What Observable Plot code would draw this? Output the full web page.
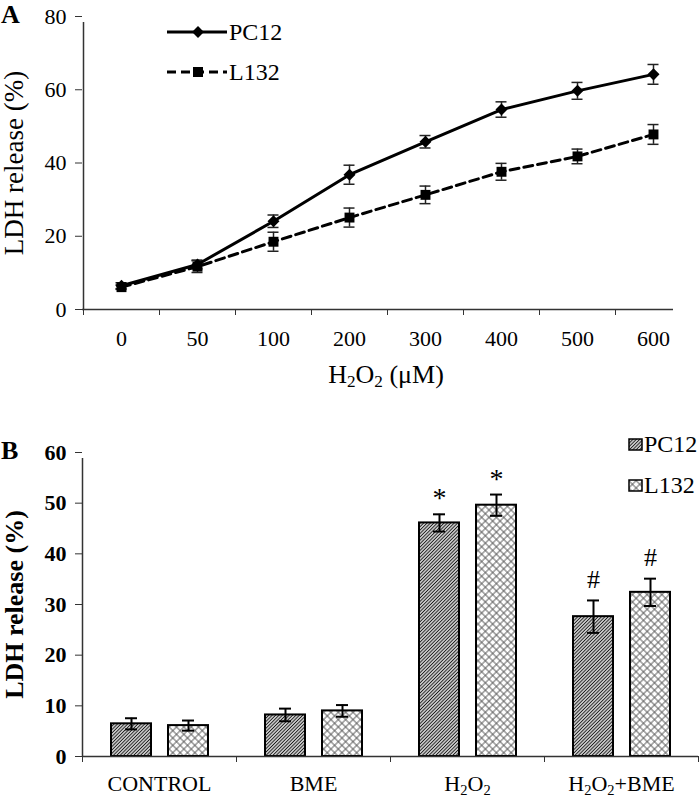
<!DOCTYPE html>
<html><head><meta charset="utf-8">
<script src="https://cdn.jsdelivr.net/npm/d3@7"></script>
<script src="https://cdn.jsdelivr.net/npm/@observablehq/plot@0.6"></script>
<style>
html,body{margin:0;padding:0;background:#fff;}
#chart{position:relative;width:699px;height:797px;overflow:hidden;background:#fff;}
#chart svg{display:block;}
</style></head><body><div id="chart"></div>
<script>
// ---------- Panel A data ----------
const doses = ["0","50","100","200","300","400","500","600"];
const pc12Line = [6.5, 12.3, 24.1, 36.8, 45.8, 54.6, 59.7, 64.2];
const pc12LineErr = [0.8, 1.2, 1.7, 2.6, 1.7, 2.1, 2.3, 2.7];
const l132Line = [6.1, 11.7, 18.5, 25.1, 31.3, 37.6, 41.8, 47.8];
const l132LineErr = [0.6, 1.6, 2.6, 2.6, 2.4, 2.3, 2.0, 2.7];
const yTicksA = [0, 20, 40, 60, 80];
const titleXA = "H₂O₂ (μM)";
const titleY = "LDH release (%)";
const seriesNames = ["PC12", "L132"];

// ---------- Panel B data ----------
const groups = ["CONTROL", "BME", "H₂O₂", "H₂O₂+BME"];
const pc12Bar = [6.45, 8.2, 46.1, 27.6];
const pc12BarErr = [1.1, 1.25, 1.7, 3.2];
const l132Bar = [6.1, 9.0, 49.6, 32.4];
const l132BarErr = [1.0, 1.15, 2.1, 2.7];
const pc12Sig = ["", "", "*", "#"];
const l132Sig = ["", "", "*", "#"];
const yTicksB = [0, 10, 20, 30, 40, 50, 60];

const FONT = '"Liberation Serif","Times New Roman",Times,serif';
const W = 699;

const rowsPCA = doses.map((d, i) => ({dose: d, v: pc12Line[i], e: pc12LineErr[i]}));
const rowsLA = doses.map((d, i) => ({dose: d, v: l132Line[i], e: l132LineErr[i]}));
const rowsPCB = groups.map((g, i) => ({g, v: pc12Bar[i], e: pc12BarErr[i], s: pc12Sig[i]}));
const rowsLB = groups.map((g, i) => ({g, v: l132Bar[i], e: l132BarErr[i], s: l132Sig[i]}));

const chart = document.getElementById("chart");

// ---------- Panel A ----------
const plotA = Plot.plot({
  width: W, height: 385,
  marginLeft: 82, marginRight: 26, marginTop: 16, marginBottom: 76,
  style: {fontFamily: FONT, fontSize: "22px", color: "#000", background: "#fff", overflow: "visible"},
  x: {type: "band", domain: doses, range: [82, 691], padding: 0},
  y: {domain: [0, 80]},
  marks: [
    Plot.ruleY([0], {stroke: "#333", strokeWidth: 1.5}),
    Plot.ruleX([doses[0]], {x: d => d, y1: 0, y2: 80, dx: -38, insetBottom: -6, stroke: "#333", strokeWidth: 1.5}),
    Plot.axisY({ticks: yTicksA, tickSize: 7, tickPadding: 9, label: null, stroke: "#333"}),
    Plot.axisX({tickSize: 0, tickPadding: 21, label: null}),
    Plot.axisX({tickSize: 6, dx: -38, tickFormat: () => "", label: null, stroke: "#333"}),
    // error bars
    Plot.ruleX(rowsPCA, {x: "dose", y1: d => d.v - d.e, y2: d => d.v + d.e, stroke: "#222", strokeWidth: 1.5}),
    Plot.tickY(rowsPCA, {x: "dose", y: d => d.v + d.e, insetLeft: 32.5, insetRight: 32.5, stroke: "#222", strokeWidth: 1.5}),
    Plot.tickY(rowsPCA, {x: "dose", y: d => d.v - d.e, insetLeft: 32.5, insetRight: 32.5, stroke: "#222", strokeWidth: 1.5}),
    Plot.ruleX(rowsLA, {x: "dose", y1: d => d.v - d.e, y2: d => d.v + d.e, stroke: "#222", strokeWidth: 1.5}),
    Plot.tickY(rowsLA, {x: "dose", y: d => d.v + d.e, insetLeft: 32.5, insetRight: 32.5, stroke: "#222", strokeWidth: 1.5}),
    Plot.tickY(rowsLA, {x: "dose", y: d => d.v - d.e, insetLeft: 32.5, insetRight: 32.5, stroke: "#222", strokeWidth: 1.5}),
    // lines
    Plot.line(rowsLA, {x: "dose", y: "v", stroke: "#000", strokeWidth: 3, strokeDasharray: "9,5"}),
    Plot.line(rowsPCA, {x: "dose", y: "v", stroke: "#000", strokeWidth: 3}),
    Plot.dot(rowsLA, {x: "dose", y: "v", symbol: "square", r: 5.6, fill: "#000", stroke: "none"}),
    Plot.dot(rowsPCA, {x: "dose", y: "v", symbol: "square", rotate: 45, r: 4.8, fill: "#000", stroke: "none"}),
    // titles
    Plot.text([titleY], {text: d => d, frameAnchor: "left", dx: -68, rotate: -90, fontSize: 27, textAnchor: "middle", lineAnchor: "middle"}),
    Plot.text([titleXA], {text: d => d, frameAnchor: "bottom", dx: 8, dy: 65, fontSize: 26, textAnchor: "middle", lineAnchor: "middle"})
  ]
});
chart.appendChild(plotA);

// ---------- Panel B ----------
const plotB = Plot.plot({
  width: W, height: 412,
  marginLeft: 82, marginRight: 1, marginTop: 67, marginBottom: 41,
  style: {fontFamily: FONT, fontSize: "22px", color: "#000", background: "#fff", overflow: "visible"},
  x: {type: "band", domain: groups, range: [82, 698], padding: 0},
  y: {domain: [0, 60]},
  marks: [
    Plot.barY(rowsPCB, {x: "g", y: "v", fill: "url(#hatchPC)", stroke: "#000", strokeWidth: 2, insetLeft: 29, insetRight: 85}),
    Plot.barY(rowsLB, {x: "g", y: "v", fill: "url(#hatchL)", stroke: "#000", strokeWidth: 2, insetLeft: 86, insetRight: 28}),
    // error bars
    Plot.ruleX(rowsPCB, {x: "g", y1: d => d.v - d.e, y2: d => d.v + d.e, dx: -28, stroke: "#000", strokeWidth: 2}),
    Plot.tickY(rowsPCB, {x: "g", y: d => d.v + d.e, insetLeft: 43, insetRight: 99, stroke: "#000", strokeWidth: 2}),
    Plot.tickY(rowsPCB, {x: "g", y: d => d.v - d.e, insetLeft: 43, insetRight: 99, stroke: "#000", strokeWidth: 2}),
    Plot.ruleX(rowsLB, {x: "g", y1: d => d.v - d.e, y2: d => d.v + d.e, dx: 29, stroke: "#000", strokeWidth: 2}),
    Plot.tickY(rowsLB, {x: "g", y: d => d.v + d.e, insetLeft: 100, insetRight: 42, stroke: "#000", strokeWidth: 2}),
    Plot.tickY(rowsLB, {x: "g", y: d => d.v - d.e, insetLeft: 100, insetRight: 42, stroke: "#000", strokeWidth: 2}),
    // axes
    Plot.ruleY([0], {stroke: "#333", strokeWidth: 1.5}),
    Plot.ruleX([groups[0]], {x: d => d, y1: 0, y2: 60, dx: -77, insetBottom: -6, stroke: "#333", strokeWidth: 1.5}),
    Plot.axisY({ticks: yTicksB, tickSize: 7, tickPadding: 9, label: null, stroke: "#333", fontWeight: "bold"}),
    Plot.axisX({tickSize: 0, tickPadding: 19, label: null}),
    Plot.axisX({tickSize: 6, dx: -77, tickFormat: () => "", label: null, stroke: "#333"}),
    Plot.axisX({tickSize: 6, dx: 77, tickFormat: () => "", label: null, stroke: "#333"}),
    // significance marks
    Plot.text(rowsPCB.filter(d => d.s === "*"), {x: "g", y: d => d.v + d.e, text: "s", dx: -28, dy: -16, fontSize: 28}),
    Plot.text(rowsLB.filter(d => d.s === "*"), {x: "g", y: d => d.v + d.e, text: "s", dx: 29, dy: -16, fontSize: 28}),
    Plot.text(rowsPCB.filter(d => d.s === "#"), {x: "g", y: d => d.v + d.e, text: "s", dx: -28, dy: -21, fontSize: 26}),
    Plot.text(rowsLB.filter(d => d.s === "#"), {x: "g", y: d => d.v + d.e, text: "s", dx: 29, dy: -21, fontSize: 26}),
    Plot.text([titleY], {text: d => d, frameAnchor: "left", dx: -68, rotate: -90, fontSize: 26, fontWeight: "bold", textAnchor: "middle", lineAnchor: "middle"})
  ]
});
chart.appendChild(plotB);

// ---------- patterns ----------
const defs = d3.select(plotB).insert("defs", ":first-child");
const pPC = defs.append("pattern").attr("id", "hatchPC").attr("patternUnits", "userSpaceOnUse")
  .attr("width", 2.4).attr("height", 2.4).attr("patternTransform", "rotate(45)");
pPC.append("rect").attr("width", 2.4).attr("height", 2.4).attr("fill", "#fff");
pPC.append("rect").attr("x", 0.6).attr("width", 1.2).attr("height", 2.4).attr("fill", "#1a1a1a");
const pL = defs.append("pattern").attr("id", "hatchL").attr("patternUnits", "userSpaceOnUse")
  .attr("width", 5.2).attr("height", 5.2).attr("patternTransform", "rotate(45)");
pL.append("rect").attr("width", 5.2).attr("height", 5.2).attr("fill", "#fff");
pL.append("line").attr("x1", 0).attr("x2", 5.2).attr("y1", 2.6).attr("y2", 2.6).attr("stroke", "#555").attr("stroke-width", 0.9);
pL.append("line").attr("y1", 0).attr("y2", 5.2).attr("x1", 2.6).attr("x2", 2.6).attr("stroke", "#555").attr("stroke-width", 0.9);

// ---------- panel letters and legends ----------
const sA = d3.select(plotA);
sA.append("text").attr("x", 1).attr("y", 23).attr("text-anchor", "start").attr("font-size", 26).attr("font-weight", "bold").attr("font-family", FONT).text("A");
const legA = sA.append("g").attr("font-family", FONT).attr("font-size", 24).attr("text-anchor", "start");
legA.append("line").attr("x1", 167).attr("x2", 227).attr("y1", 32).attr("y2", 32).attr("stroke", "#000").attr("stroke-width", 3);
legA.append("rect").attr("x", -4.2).attr("y", -4.2).attr("width", 8.4).attr("height", 8.4).attr("fill", "#000")
  .attr("transform", "translate(198,32) rotate(45)");
legA.append("text").attr("x", 229).attr("y", 32).attr("dy", "0.35em").text(seriesNames[0]);
legA.append("line").attr("x1", 167).attr("x2", 227).attr("y1", 72).attr("y2", 72).attr("stroke", "#000").attr("stroke-width", 3).attr("stroke-dasharray", "9,5");
legA.append("rect").attr("x", 193).attr("y", 67).attr("width", 10).attr("height", 10).attr("fill", "#000");
legA.append("text").attr("x", 229).attr("y", 72).attr("dy", "0.35em").text(seriesNames[1]);

const sB = d3.select(plotB);
sB.append("text").attr("x", 1).attr("y", 74).attr("text-anchor", "start").attr("font-size", 26).attr("font-weight", "bold").attr("font-family", FONT).text("B");
const legB = sB.append("g").attr("font-family", FONT).attr("font-size", 24).attr("text-anchor", "start");
legB.append("rect").attr("x", 629).attr("y", 54).attr("width", 13).attr("height", 11).attr("fill", "url(#hatchPC)").attr("stroke", "#000").attr("stroke-width", 1.5);
legB.append("text").attr("x", 644).attr("y", 67).text(seriesNames[0]);
legB.append("rect").attr("x", 629).attr("y", 95).attr("width", 13).attr("height", 11).attr("fill", "url(#hatchL)").attr("stroke", "#000").attr("stroke-width", 1.5);
legB.append("text").attr("x", 644).attr("y", 108).text(seriesNames[1]);

// ---------- subscripts ----------
function subscriptify(svg) {
  svg.querySelectorAll("text").forEach(el => {
    const targets = el.querySelectorAll("tspan").length ? Array.from(el.querySelectorAll("tspan")) : [el];
    targets.forEach(t => {
      const s = t.textContent;
      if (!s.includes("₂")) return;
      const fs = parseFloat(getComputedStyle(t).fontSize) || 22;
      t.textContent = "";
      const parts = s.split(/(₂)/).filter(p => p);
      let down = false;
      parts.forEach(p => {
        const ts = document.createElementNS("http://www.w3.org/2000/svg", "tspan");
        if (p === "₂") {
          ts.textContent = "2";
          ts.setAttribute("font-size", (fs * 0.66).toFixed(1));
          if (!down) { ts.setAttribute("dy", (fs * 0.16).toFixed(1)); down = true; }
        } else {
          ts.textContent = p;
          if (down) { ts.setAttribute("dy", (-fs * 0.16).toFixed(1)); down = false; }
        }
        t.appendChild(ts);
      });
    });
  });
}
subscriptify(plotA);
subscriptify(plotB);
</script>
</body></html>
